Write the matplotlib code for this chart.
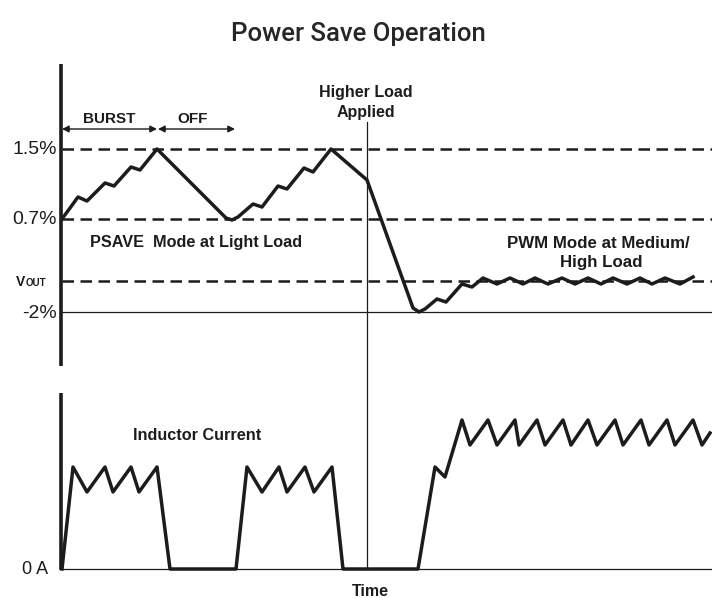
import matplotlib.pyplot as plt

# Diagram drawn in a pixel-like coordinate system (x: time, y: screen rows, inverted)
W, H = 712, 598

# voltage levels (screen rows) and their labels
level_rows = [149, 219, 281, 312]
level_labels = ["1.5%", "0.7%", "V", "-2%"]

# output voltage waveform vertices
v_time = [62, 78, 87, 105, 114, 131, 140, 157, 226, 232, 238, 253, 262, 278, 287,
          304, 313, 331, 367, 413, 419, 425, 437, 446, 462, 472, 483, 497, 510, 523,
          535, 548, 562, 575, 588, 601, 613, 627, 640, 652, 665, 680, 693]
v_value = [219, 197, 201, 183, 186, 167, 170, 149, 218, 220, 217, 204, 207, 186, 189,
           168, 172, 149, 180, 308, 312, 309, 299, 302, 284, 287, 278, 284, 278, 284,
           278, 284, 278, 284, 278, 284, 278, 284, 278, 284, 278, 284, 277]

# inductor current waveform vertices
i_time = [62, 73, 87, 105, 113, 131, 139, 157, 170, 236, 247, 262, 279, 287, 305,
          314, 332, 343, 418, 435, 445, 462, 470, 488, 497, 515, 519, 537, 545, 563,
          571, 588, 597, 615, 623, 641, 649, 667, 675, 693, 702, 710]
i_value = [569, 467, 492, 467, 492, 467, 492, 467, 569, 569, 467, 492, 467, 492, 467,
           492, 467, 569, 569, 467, 477, 420, 445, 420, 445, 420, 445, 420, 445, 420,
           445, 420, 445, 420, 445, 420, 445, 420, 445, 420, 445, 433]

ink = "#1c1c1c"
fig = plt.figure(figsize=(W / 100, H / 100), dpi=100)
ax = fig.add_axes([0, 0, 1, 1])
ax.set_xlim(0, W)
ax.set_ylim(H, 0)
ax.axis("off")

bold = dict(family="Liberation Sans", fontweight="bold", color=ink)
plain = dict(family="Liberation Sans", color=ink)

ax.text(358, 34, "Power Save Operation", ha="center", va="center", fontsize=18.5,
        family="Roboto", fontweight="medium", color="#262626")

# axes lines
ax.plot([61, 61], [64, 366], color=ink, lw=2.6, solid_capstyle="butt")
ax.plot([61, 61], [393, 570], color=ink, lw=2.6, solid_capstyle="butt")
ax.plot([62, W], [569, 569], color=ink, lw=0.9)

# level lines
for row, lab in zip(level_rows, level_labels):
    if lab == "-2%":
        ax.plot([62, W], [row, row], color=ink, lw=0.9)
    else:
        ax.plot([62, W], [row, row], color=ink, lw=1.8, linestyle=(0, (4.6, 2.6)))
    if lab == "V":
        ax.text(16, row + 5, "V", ha="left", va="baseline", fontsize=10, **bold)
        ax.text(25.5, row + 5, "OUT", ha="left", va="baseline", fontsize=7, **bold)
    else:
        ax.text(57, row + 1, lab, ha="right", va="center", fontsize=14, **plain)
ax.text(48, 570, "0 A", ha="right", va="center", fontsize=13, **plain)

# load step marker
ax.plot([367, 367], [122, 569], color=ink, lw=0.9)

# waveforms
ax.plot(v_time, v_value, color=ink, lw=2.5, solid_joinstyle="round")
ax.plot(i_time, i_value, color=ink, lw=2.5, solid_joinstyle="round")

# burst / off arrows
arrow = dict(arrowstyle="<|-|>", color=ink, lw=1.0, mutation_scale=10,
             shrinkA=0, shrinkB=0)
ax.annotate("", xy=(62, 129), xytext=(157, 129), arrowprops=arrow)
ax.annotate("", xy=(158, 129), xytext=(235, 129), arrowprops=arrow)
ax.text(109, 119, "BURST", ha="center", va="center", fontsize=11, **bold)
ax.text(193, 119, "OFF", ha="center", va="center", fontsize=11, **bold)

# annotations
ax.text(366, 93, "Higher Load", ha="center", va="center", fontsize=11.5, **bold)
ax.text(366, 113, "Applied", ha="center", va="center", fontsize=11.5, **bold)
ax.text(90, 242, "PSAVE  Mode at Light Load", ha="left", va="center", fontsize=11.7, **bold)
ax.text(598, 243, "PWM Mode at Medium/", ha="center", va="center", fontsize=12.2, **bold)
ax.text(601, 263, "High Load", ha="center", va="center", fontsize=12.2, **bold)
ax.text(197, 435, "Inductor Current", ha="center", va="center", fontsize=11.7, **bold)
ax.text(370, 591, "Time", ha="center", va="center", fontsize=11.5, **bold)

fig.savefig("out.png", dpi=100)
